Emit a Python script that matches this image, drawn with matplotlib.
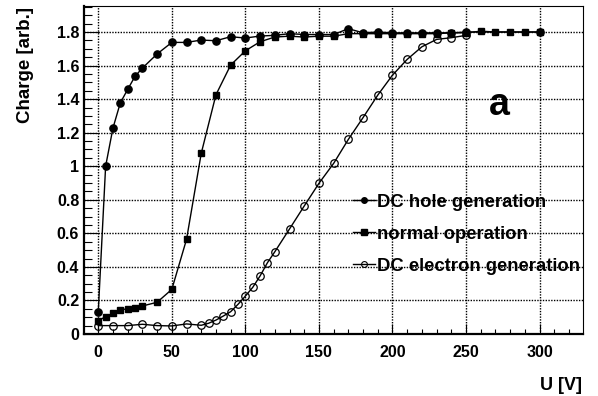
import numpy as np
import matplotlib
matplotlib.use("Agg")
import matplotlib.pyplot as plt
from matplotlib.lines import Line2D
from matplotlib.ticker import MultipleLocator

plt.rcParams['font.family'] = ['Liberation Sans', 'DejaVu Sans']
plt.rcParams['font.weight'] = 'bold'

# DC hole generation (filled circles)
hole_u = [0, 5, 10, 15, 20, 25, 30, 40, 50, 60, 70, 80, 90, 100, 110, 120, 130, 140,
          150, 160, 170, 180, 190, 200, 210, 220, 230, 240, 250, 300]
hole_q = [0.133, 1.0, 1.228, 1.378, 1.458, 1.536, 1.585, 1.669, 1.738, 1.738, 1.752,
          1.748, 1.772, 1.764, 1.776, 1.78, 1.79, 1.785, 1.785, 1.785, 1.82, 1.795,
          1.80, 1.795, 1.795, 1.795, 1.795, 1.795, 1.80, 1.80]

# normal operation (filled squares)
norm_u = [0, 5, 10, 15, 20, 25, 30, 40, 50, 60, 70, 80, 90, 100, 110, 120, 130, 140,
          150, 160, 170, 180, 190, 200, 210, 220, 230, 240, 250, 260, 270, 280, 290, 300]
norm_q = [0.08, 0.103, 0.123, 0.143, 0.151, 0.155, 0.167, 0.189, 0.266, 0.564, 1.077,
          1.426, 1.603, 1.688, 1.742, 1.77, 1.775, 1.77, 1.775, 1.775, 1.79, 1.79,
          1.79, 1.79, 1.79, 1.79, 1.79, 1.795, 1.795, 1.805, 1.80, 1.80, 1.80, 1.80]

# DC electron generation (open circles)
elec_u = [0, 10, 20, 30, 40, 50, 60, 70, 75, 80, 85, 90, 95, 100, 105, 110, 115, 120,
          130, 140, 150, 160, 170, 180, 190, 200, 210, 220, 230, 240, 250]
elec_q = [0.05, 0.05, 0.05, 0.058, 0.05, 0.048, 0.06, 0.052, 0.064, 0.083, 0.107,
          0.133, 0.177, 0.226, 0.278, 0.346, 0.425, 0.49, 0.626, 0.763, 0.898, 1.017,
          1.16, 1.29, 1.424, 1.543, 1.637, 1.712, 1.756, 1.766, 1.78]

labels = ['DC hole generation', 'normal operation', 'DC electron generation']

fig = plt.figure(figsize=(5.98, 3.96), dpi=100)
ax = fig.add_axes([84 / 598, 62 / 396, 499 / 598, 328 / 396])

lw = 1.0
ax.plot(hole_u, hole_q, color='black', lw=lw, marker='o', ms=5.2, mfc='black', mec='black', zorder=3)
ax.plot(norm_u, norm_q, color='black', lw=lw, marker='s', ms=5.0, mfc='black', mec='black', zorder=3)
ax.plot(elec_u, elec_q, color='black', lw=lw, marker='o', ms=5.4, mfc='none', mec='black', mew=0.9, zorder=3)

ax.set_xlim(-9.7, 329.5)
ax.set_ylim(0, 1.955)

ax.xaxis.set_major_locator(MultipleLocator(50))
ax.xaxis.set_minor_locator(MultipleLocator(10))
ax.yaxis.set_major_locator(MultipleLocator(0.2))
ax.yaxis.set_minor_locator(MultipleLocator(0.05))
ax.yaxis.set_major_formatter(plt.FuncFormatter(lambda v, p: f'{v:g}'))

ax.grid(True, which='major', color='black', linestyle=(0, (1, 1)), linewidth=1.0, zorder=1)
ax.set_axisbelow(True)

ax.tick_params(axis='x', which='major', direction='in', length=7.2, width=0.8, pad=8,
               labelsize=11.5, top=False)
ax.tick_params(axis='x', which='minor', direction='in', length=3.6, width=0.8, top=False)
ax.tick_params(axis='y', which='major', direction='in', length=10.8, width=0.8, pad=3.5,
               labelsize=11.5, right=False)
ax.tick_params(axis='y', which='minor', direction='in', length=5.4, width=0.8, right=False)
for lab in ax.get_xticklabels() + ax.get_yticklabels():
    lab.set_fontweight('bold')

ax.spines['bottom'].set_linewidth(1.6)
ax.spines['left'].set_linewidth(1.6)
ax.spines['top'].set_linewidth(0.8)
ax.spines['right'].set_linewidth(0.8)

fig.text(25 / 598, 1 - 7 / 396, 'Charge [arb.]', rotation=90, ha='center', va='top',
         fontsize=13.5, fontweight='bold')
fig.text(582 / 598, 1 - 385 / 396, 'U [V]', ha='right', va='center', fontsize=13,
         fontweight='bold')
ax.text(0.832, 0.697, 'a', transform=ax.transAxes, ha='center', va='center', fontsize=27,
        fontweight='bold')

handles = [
    Line2D([], [], color='black', lw=lw, marker='o', ms=4, mfc='black', mec='black'),
    Line2D([], [], color='black', lw=lw, marker='s', ms=3.8, mfc='black', mec='black'),
    Line2D([], [], color='black', lw=lw, marker='o', ms=4.2, mfc='none', mec='black', mew=0.8),
]
leg = fig.legend(handles, labels, loc='center left', bbox_to_anchor=(353 / 598, 1 - 234.3 / 396),
                 frameon=False, prop={'weight': 'bold', 'size': 13.3},
                 handlelength=1.2, handletextpad=0.1, labelspacing=0.82, borderpad=0,
                 borderaxespad=0)

fig.savefig('out.png', dpi=100)
